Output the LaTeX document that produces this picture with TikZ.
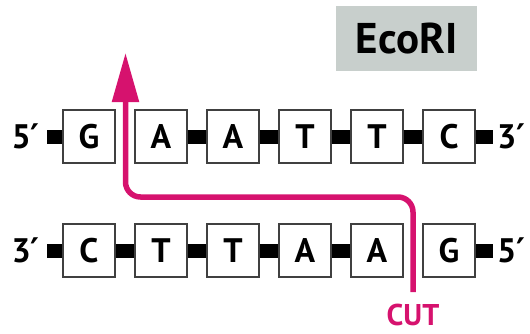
\documentclass[tikz,border=0pt]{standalone}
\usepackage{fontspec}
\setmainfont{PT Sans}
\newfontfamily\primefont{DejaVu Sans}
\usetikzlibrary{arrows.meta}
\definecolor{cutmag}{RGB}{214,18,110}
\definecolor{ecogray}{RGB}{200,207,204}
\newcommand{\pr}{{\primefont\bfseries ′}}
\begin{document}
\begin{tikzpicture}[x=1pt,y=-1pt,
  base/.style={draw=black!75,line width=1.3pt,fill=white,minimum width=52pt,minimum height=53pt,inner sep=0pt,font=\fontsize{34}{34}\selectfont\bfseries},
  link/.style={line width=14pt,black},
  endlbl/.style={font=\fontsize{34}{34}\selectfont\bfseries,inner sep=0pt},
  cutline/.style={cutmag,line width=5.5pt,rounded corners=15pt,-{Triangle[width=26pt,length=49pt]}}]
\useasboundingbox (0,0) rectangle (530,333);
% EcoRI label
\node[fill=ecogray,minimum width=141pt,minimum height=65pt,inner sep=0pt,font=\fontsize{43}{43}\selectfont\bfseries] (eco) at (406.5,38.5) {EcoRI};
% top strand
\foreach \n/\x/\l in {t1/89/G,t2/161/A,t3/233/A,t4/305/T,t5/377/T,t6/449/C}
  \node[base] (\n) at (\x,136.5) {\l};
% bottom strand
\foreach \n/\x/\l in {b1/89/C,b2/161/T,b3/233/T,b4/305/A,b5/377/A,b6/449/G}
  \node[base] (\n) at (\x,250.5) {\l};
% end coordinates
\coordinate (tl) at (47,136.5);
\coordinate (tr) at (493,136.5);
\coordinate (bl) at (47,250.5);
\coordinate (br) at (493,250.5);
% linkers top
\draw[link] (tl) -- (t1.west);
\draw[link] (t2.east) -- (t3.west);
\draw[link] (t3.east) -- (t4.west);
\draw[link] (t4.east) -- (t5.west);
\draw[link] (t5.east) -- (t6.west);
\draw[link] (t6.east) -- (tr);
% linkers bottom
\draw[link] (bl) -- (b1.west);
\draw[link] (b1.east) -- (b2.west);
\draw[link] (b2.east) -- (b3.west);
\draw[link] (b3.east) -- (b4.west);
\draw[link] (b4.east) -- (b5.west);
\draw[link] (b6.east) -- (br);
% end labels
\node[endlbl,anchor=east] (t5p) at (40,136.5) {5\pr};
\node[endlbl,anchor=west] (t3p) at (497,136.5) {3\pr};
\node[endlbl,anchor=east] (b3p) at (40,250.5) {3\pr};
\node[endlbl,anchor=west] (b5p) at (497,250.5) {5\pr};
% cut
\node[cutmag,font=\fontsize{30}{30}\selectfont\bfseries,inner sep=0pt,anchor=base] (cut) at (413,325) {CUT};
\coordinate (cs) at (413,292);
\coordinate (turn1) at (413,197);
\coordinate (turn2) at (125.5,197);
\coordinate (tip) at (125.5,53);
\draw[cutline] (cs) -- (turn1) -- (turn2) -- (tip);
\end{tikzpicture}
\end{document}
